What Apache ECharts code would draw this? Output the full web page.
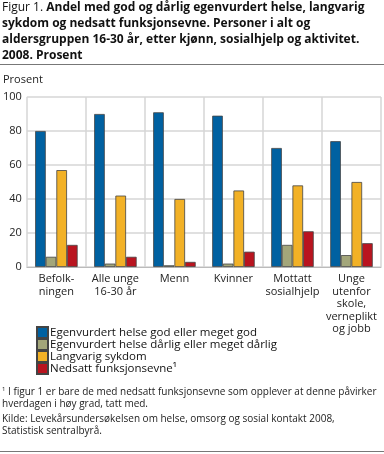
<!DOCTYPE html>
<html>
<head>
<meta charset="utf-8">
<script src="https://cdn.jsdelivr.net/npm/echarts@6/dist/echarts.min.js"></script>
<style>
html,body{margin:0;padding:0;background:#fff;}
#chart{width:384px;height:454px;}
</style>
</head>
<body>
<div id="chart"></div>
<script>
const categories = ["Befolk-\nningen", "Alle unge\n16-30 år", "Menn", "Kvinner", "Mottatt\nsosialhjelp", "Unge\nutenfor\nskole,\nverneplikt\nog jobb"];
const seriesNames = ["Egenvurdert helse god eller meget god", "Egenvurdert helse dårlig eller meget dårlig", "Langvarig sykdom", "Nedsatt funksjonsevne¹"];
const godHelse = [80, 90, 91, 89, 70, 74];
const darligHelse = [6, 2, 1, 2, 13, 7];
const langvarig = [57, 42, 40, 45, 48, 50];
const nedsatt = [13, 6, 3, 9, 21, 14];
const yTicks = [0, 20, 40, 60, 80, 100];
const colors = ["#0061a1", "#a3a67a", "#f2b126", "#b9141f"];

const FONT = "Open Sans";
const chart = echarts.init(document.getElementById('chart'), null, {renderer: 'canvas'});
const values = [godHelse, darligHelse, langvarig, nedsatt];

const option = {
  animation: false,
  backgroundColor: '#fff',
  textStyle: {fontFamily: FONT},
  grid: {left: 25, right: 3, top: 97, bottom: 187, containLabel: false},
  legend: {
    orient: 'vertical', left: 31, top: 321,
    itemWidth: 11, itemHeight: 11, itemGap: -1,
    icon: 'rect',
    textStyle: {fontFamily: FONT, fontSize: 11.5, color: '#111', padding: [0,0,0,-3]},
    data: seriesNames
  },
  xAxis: {
    type: 'category', data: categories,
    axisLine: {show: true, lineStyle: {color: '#bbb', width: 1}},
    axisTick: {show: false},
    splitLine: {show: true, lineStyle: {color: '#d6d6d6', width: 1.5}},
    axisLabel: {fontFamily: FONT, fontSize: 11, color: '#222', lineHeight: 12.5, margin: 6, interval: 0}
  },
  yAxis: {
    type: 'value', min: yTicks[0], max: yTicks[yTicks.length-1], interval: 20,
    axisLine: {show: false}, axisTick: {show: false},
    splitLine: {show: true, lineStyle: {color: '#d6d6d6', width: 1.5}},
    axisLabel: {fontFamily: FONT, fontSize: 11, color: '#222', margin: 5}
  },
  series: seriesNames.map((n, i) => ({
    name: n, type: 'bar', data: values[i],
    barGap: '0%', barCategoryGap: '28%',
    itemStyle: {color: colors[i], borderColor: '#444', borderWidth: 0.8}
  })),
  graphic: [
    {type: 'text', left: 2, top: 2, style: {
      text: '{r|Figur 1. }{b|Andel med god og dårlig egenvurdert helse, langvarig}\n{b|sykdom og nedsatt funksjonsevne. Personer i alt og}\n{b|aldersgruppen 16-30 år, etter kjønn, sosialhjelp og aktivitet.}\n{b|2008. Prosent}',
      rich: {
        r: {fontFamily: FONT, fontSize: 12, fontWeight: 'normal', fill: '#111', lineHeight: 16},
        b: {fontFamily: FONT, fontSize: 12, fontWeight: 'bold', fill: '#111', lineHeight: 16}
      }
    }},
    {type: 'line', shape: {x1: 0, y1: 64.5, x2: 384, y2: 64.5}, style: {stroke: '#777', lineWidth: 1}},
    {type: 'text', left: 3, top: 74, style: {text: 'Prosent', fontFamily: FONT, fontSize: 11, fill: '#222'}},
    {type: 'text', left: 2, top: 386, style: {
      text: '{s|1}{t| I figur 1 er bare de med nedsatt funksjonsevne som opplever at denne påvirker}\n{t|hverdagen i høy grad, tatt med.}',
      rich: {
        s: {fontFamily: FONT, fontSize: 6, fill: '#222', verticalAlign: 'top', lineHeight: 12},
        t: {fontFamily: FONT, fontSize: 10, fill: '#222', lineHeight: 12}
      }
    }},
    {type: 'text', left: 2, top: 413, style: {
      text: 'Kilde: Levekårsundersøkelsen om helse, omsorg og sosial kontakt 2008,\nStatistisk sentralbyrå.',
      fontFamily: FONT, fontSize: 10, fill: '#222', lineHeight: 12
    }},
    {type: 'line', shape: {x1: 0, y1: 451.5, x2: 384, y2: 451.5}, style: {stroke: '#777', lineWidth: 1}}
  ]
};
chart.setOption(option);
</script>
</body>
</html>
